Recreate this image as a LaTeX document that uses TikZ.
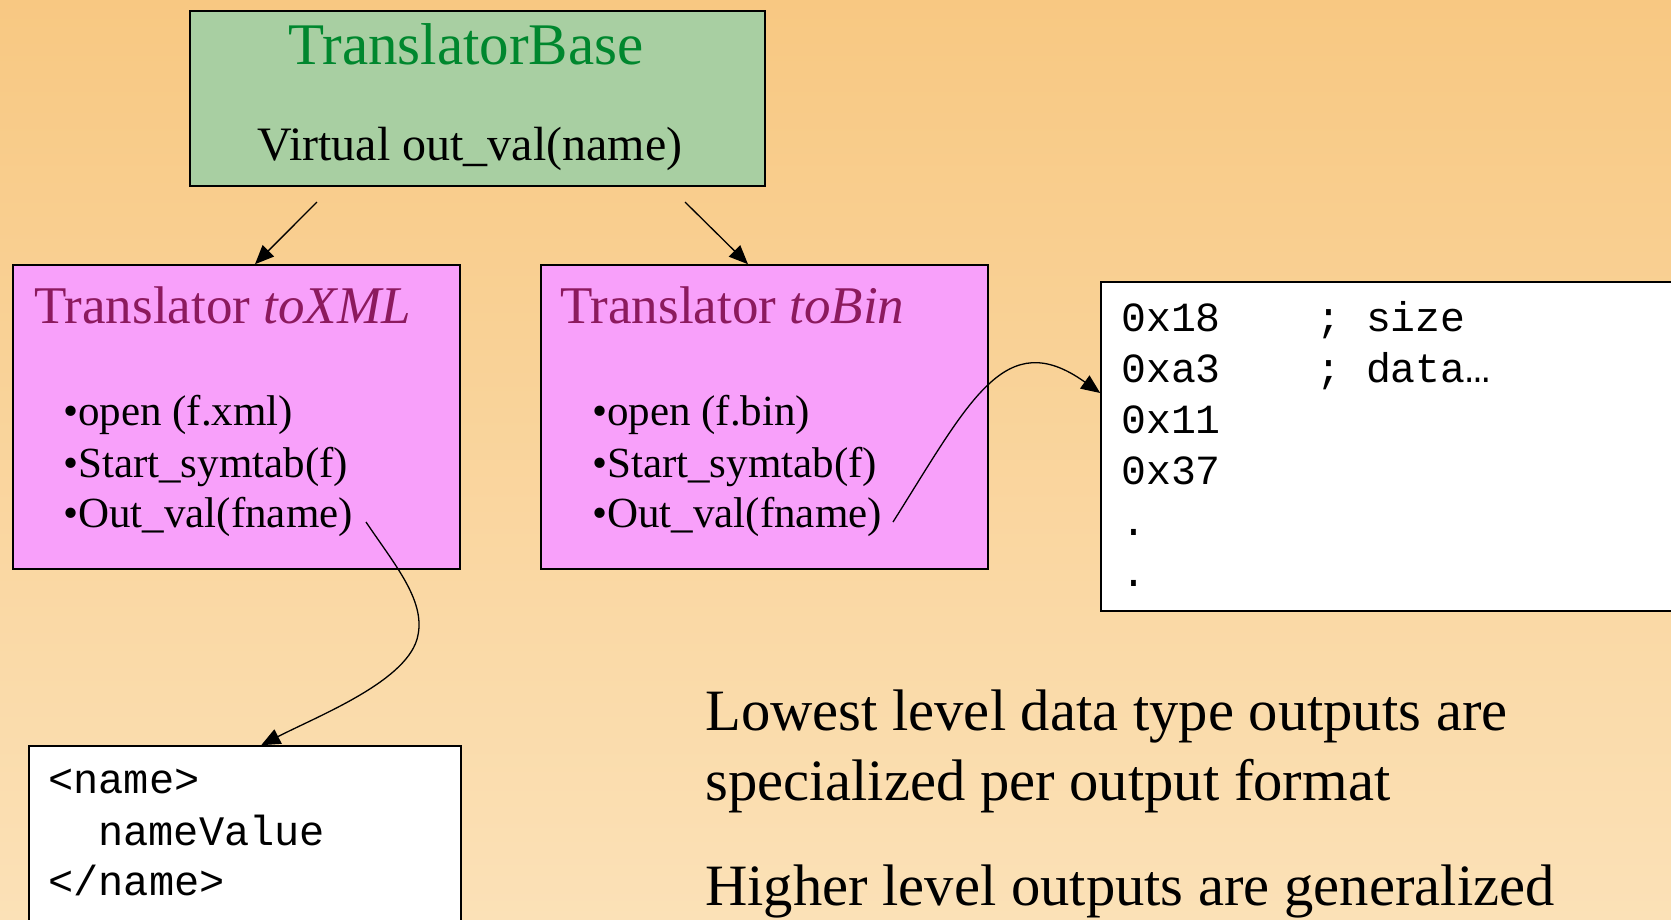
\documentclass[tikz,border=0pt]{standalone}
\usepackage{fontspec}
\setmainfont{Liberation Serif}
\setmonofont{Liberation Mono}
\usetikzlibrary{arrows.meta,calc}
\definecolor{bgtop}{RGB}{248,200,130}
\definecolor{bgbot}{RGB}{251,225,183}
\definecolor{basefill}{RGB}{168,207,162}
\definecolor{basetext}{RGB}{0,135,46}
\definecolor{pinkfill}{RGB}{248,160,250}
\definecolor{pinktext}{RGB}{140,26,94}
\tikzset{
  box/.style={draw=black, line width=1.6pt, inner sep=0pt, rectangle},
  txt/.style={inner sep=0pt, anchor=base west},
  conn/.style={line width=1.3pt, -{Triangle[length=19pt,width=16pt]}},
  btitle/.style={font=\fontsize{59}{61}\selectfont, text=basetext, inner sep=0pt, anchor=base},
  ptitle/.style={txt, font=\fontsize{53}{55}\selectfont, text=pinktext},
  bul/.style={txt, font=\fontsize{43}{45}\selectfont},
  mono/.style={txt, font=\fontsize{41.5}{43}\selectfont\ttfamily},
  big/.style={txt, font=\fontsize{58.6}{60}\selectfont}
}
\begin{document}
\begin{tikzpicture}[x=1pt,y=-1pt]
\useasboundingbox (0,0) rectangle (1671,919);
\clip (0,0) rectangle (1671,919);
\shade[top color=bgtop, bottom color=bgbot] (0,0) rectangle (1671,919);

% boxes
\node[box, fill=basefill, minimum width=575pt, minimum height=175pt] (base) at (477.5,98.5) {};
\node[box, fill=pinkfill, minimum width=447pt, minimum height=304pt] (xml) at (236.5,417) {};
\node[box, fill=pinkfill, minimum width=447pt, minimum height=304pt] (bin) at (764.5,417) {};
\node[box, fill=white, minimum width=640pt, minimum height=329pt] (hex) at (1421,446.5) {};
\node[box, fill=white, minimum width=432pt, minimum height=220pt] (xmlout) at (245,856) {};

% base texts
\node[btitle] (basetitle) at (466,64) {TranslatorBase};
\node[inner sep=0pt, anchor=base, font=\fontsize{48}{50}\selectfont] (virt) at (470,160) {Virtual out\_val(name)};

% toXML
\node[ptitle] (xmltitle) at (34,323) {Translator \textit{toXML}};
\node[bul] (x1) at (63,425) {•open (f.xml)};
\node[bul] (x2) at (63,477) {•Start\_symtab(f)};
\node[bul] (x3) at (63,527) {•Out\_val(fname)};

% toBin
\node[ptitle] (bintitle) at (560,323) {Translator \textit{toBin}};
\node[bul] (b1) at (592,425) {•open (f.bin)};
\node[bul] (b2) at (592,477) {•Start\_symtab(f)};
\node[bul] (b3) at (592,527) {•Out\_val(fname)};

% hex lines
\node[mono] (h1) at (1121,331) {0x18};
\node[mono] (h1c) at (1316,331) {; size};
\node[mono] (h2) at (1121,382) {0xa3};
\node[mono] (h2c) at (1316,382) {; data…};
\node[mono] (h3) at (1121,433) {0x11};
\node[mono] (h4) at (1121,484) {0x37};
\node[mono] (h5) at (1121,535) {.};
\node[mono] (h6) at (1121,586) {.};

% xml output
\node[mono, font=\fontsize{42}{44}\selectfont\ttfamily] (o1) at (48,793) {<name>};
\node[mono, font=\fontsize{42}{44}\selectfont\ttfamily] (o2) at (98,845) {nameValue};
\node[mono, font=\fontsize{42}{44}\selectfont\ttfamily] (o3) at (48,895) {</name>};

% bottom text
\node[big] (t1) at (705,730) {Lowest level data type outputs are};
\node[big] (t2) at (705,800) {specialized per output format};
\node[big] (t3) at (705,905) {Higher level outputs are generalized};

% connectors
\coordinate (c1) at (317,202);
\coordinate (c2) at (685,202);
\coordinate (c3) at (366,522);
\coordinate (c4) at (893,522);
\draw[conn] (c1) -- ($(xml.north)+(18.5,0)$);
\draw[conn] (c2) -- ($(bin.north)+(-16.5,0)$);
\draw[conn] (c3) .. controls (395,565) and (425,600) .. (418,635)
  .. controls (410,680) and (320,715) .. ($(xmlout.north west)+(233,0)$);
\draw[conn] (c4) .. controls (970,400) and (1005,325) .. ($(hex.west)+(0,-53.5)$);
\end{tikzpicture}
\end{document}
